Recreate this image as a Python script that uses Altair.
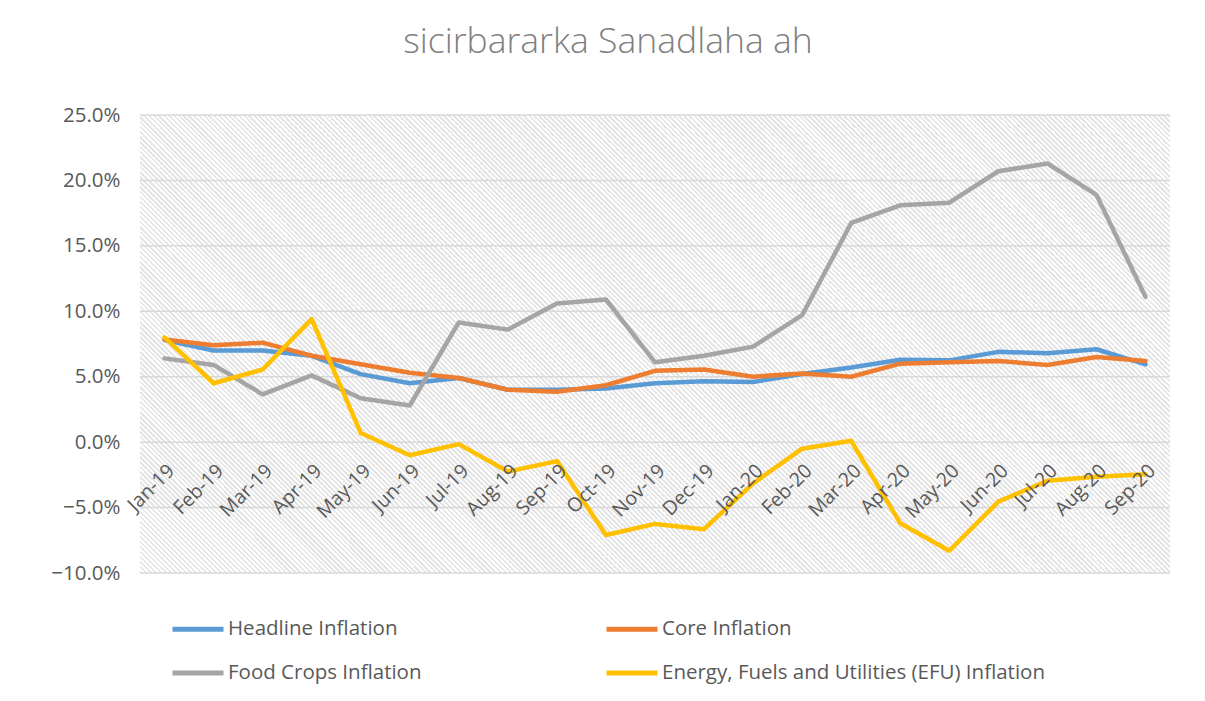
import altair as alt
import pandas as pd

months = ["Jan-19", "Feb-19", "Mar-19", "Apr-19", "May-19", "Jun-19", "Jul-19",
          "Aug-19", "Sep-19", "Oct-19", "Nov-19", "Dec-19", "Jan-20", "Feb-20",
          "Mar-20", "Apr-20", "May-20", "Jun-20", "Jul-20", "Aug-20", "Sep-20"]

headline = [7.8, 7.0, 7.0, 6.6, 5.2, 4.5, 4.9, 4.0, 4.0, 4.1, 4.5, 4.65, 4.6, 5.2,
            5.7, 6.3, 6.25, 6.9, 6.8, 7.1, 5.95]
core = [7.85, 7.4, 7.6, 6.6, 5.95, 5.3, 4.9, 4.0, 3.85, 4.35, 5.45, 5.55, 5.0, 5.25,
        5.0, 6.0, 6.1, 6.2, 5.9, 6.5, 6.2]
food = [6.4, 5.9, 3.65, 5.1, 3.35, 2.8, 9.15, 8.6, 10.6, 10.9, 6.1, 6.6, 7.3, 9.7,
        16.75, 18.1, 18.3, 20.7, 21.3, 18.9, 11.1]
efu = [8.0, 4.5, 5.55, 9.4, 0.7, -1.0, -0.15, -2.25, -1.45, -7.1, -6.25, -6.65, -3.15,
       -0.5, 0.1, -6.2, -8.3, -4.55, -2.95, -2.65, -2.45]

series_names = ["Headline Inflation", "Core Inflation", "Food Crops Inflation",
                "Energy, Fuels and Utilities (EFU) Inflation"]
series_colors = ["#5B9BD5", "#ED7D31", "#A5A5A5", "#FFC000"]
y_ticks = [-10, -5, 0, 5, 10, 15, 20, 25]

rows = []
for name, vals in zip(series_names, [headline, core, food, efu]):
    for i, (m, v) in enumerate(zip(months, vals)):
        rows.append({"series": name, "month": m, "value": v, "order": i})
df = pd.DataFrame(rows)

W, H = 1030, 458
FONT = "Open Sans"
TXT = "#595959"

# diagonal hatch background via a striped gradient (5 px horizontal period)
L = (W + H) / 2 ** 0.5
per = 5 / 2 ** 0.5
n = int(L / per) + 1
Lp = n * per
scale_len = Lp / L
frac = 0.45
stripe, blank = "#e5e5e5", "#ffffff"
stops = []
for i in range(n):
    a = i / n
    b = (i + frac) / n
    c = (i + 1) / n
    stops += [alt.GradientStop(offset=a, color=stripe),
              alt.GradientStop(offset=b, color=stripe),
              alt.GradientStop(offset=b, color=blank),
              alt.GradientStop(offset=c, color=blank)]
k = (W + H) / (W * W + H * H) * scale_len
grad = alt.LinearGradient(gradient="linear", stops=stops,
                          x1=0, y1=1, x2=k * W, y2=1 - k * H)

yscale = alt.Scale(domain=[-10, 25], nice=False, zero=False)
yaxis = alt.Axis(values=y_ticks, labelExpr="format(datum.value, '.1f') + '%'",
                 title=None, domain=False, ticks=False, grid=False, zindex=1,
                 labelPadding=20, labelFontSize=20.5, labelColor=TXT, labelFont=FONT)

bg = alt.Chart(alt.Data(values=[{"a": 1}])).mark_rect(fill=grad, stroke=None).encode(
    y=alt.datum(25, type="quantitative", scale=yscale, axis=yaxis),
    y2=alt.datum(-10),
)

grid = alt.Chart(pd.DataFrame({"value": y_ticks})).mark_rule(
    color="#d9d9d9", strokeWidth=1.5
).encode(y=alt.Y("value:Q", scale=yscale, axis=yaxis))

lines = alt.Chart(df).mark_line(strokeWidth=4.5, strokeJoin="round", strokeCap="round").encode(
    x=alt.X("month:N", sort=months, scale=alt.Scale(type="point", padding=0.5),
            axis=alt.Axis(title=None, labelAngle=-45, labelAlign="right", labelBaseline="top",
                          labelPadding=19, labelOffset=0, offset=-131, domain=False,
                          ticks=False, grid=False, labelFontSize=19.5, labelColor=TXT,
                          labelFont=FONT, labelOverlap=False, zindex=1)),
    y=alt.Y("value:Q", scale=yscale, axis=yaxis),
    color=alt.Color("series:N", sort=series_names,
                    scale=alt.Scale(domain=series_names, range=series_colors),
                    legend=alt.Legend(title=None, orient="none", legendX=30, legendY=486,
                                      direction="horizontal",
                                      columns=2, gridAlign="each", columnPadding=174,
                                      rowPadding=5, padding=0,
                                      symbolType="stroke", symbolSize=2600,
                                      symbolStrokeWidth=5, labelFontSize=20.5,
                                      labelColor=TXT, labelFont=FONT, labelOffset=2,
                                      labelLimit=600)),
    order=alt.Order("order:Q"),
)

chart = alt.layer(bg, grid, lines).properties(
    width=W, height=H,
    title=alt.TitleParams(text="sicirbararka Sanadlaha ah", fontSize=35.5, font=FONT,
                          fontWeight=300, color="#808080", anchor="middle", frame="group",
                          baseline="alphabetic", offset=17, dx=-47),
    padding={"left": 132, "top": 107, "right": 25, "bottom": 120},
    autosize=alt.AutoSizeParams(type="none"),
    background="white",
).configure_view(stroke=None)

chart.save("out.html", embed_options={"renderer": "svg", "actions": False})
